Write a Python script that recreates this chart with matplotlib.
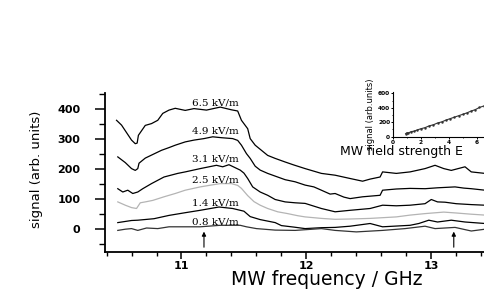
import matplotlib
matplotlib.use("Agg")
import matplotlib.pyplot as plt
from matplotlib.ticker import MultipleLocator

# ---- data ----
x65 = [10.48, 10.52, 10.56, 10.60, 10.63, 10.645, 10.655, 10.71, 10.76, 10.81, 10.85, 10.90, 10.95, 11.03, 11.10, 11.20, 11.31, 11.40, 11.45, 11.48, 11.53, 11.55, 11.59, 11.64, 11.69, 11.75, 11.83, 11.90, 11.99, 12.12, 12.23, 12.35, 12.45, 12.51, 12.59, 12.61, 12.72, 12.83, 12.95, 13.03, 13.10, 13.16, 13.27, 13.32, 13.43]
y65 = [361, 345, 320, 295, 283, 285, 311, 344, 350, 361, 384, 395, 401, 394, 400, 395, 405, 396, 392, 361, 333, 300, 278, 261, 244, 234, 222, 212, 200, 184, 178, 167, 158, 165, 172, 189, 184, 189, 200, 211, 200, 194, 206, 189, 184]

x49 = [10.49, 10.55, 10.60, 10.63, 10.65, 10.66, 10.71, 10.76, 10.84, 10.90, 10.95, 11.03, 11.10, 11.18, 11.25, 11.32, 11.41, 11.45, 11.48, 11.52, 11.55, 11.59, 11.63, 11.69, 11.75, 11.83, 11.91, 11.99, 12.06, 12.12, 12.19, 12.23, 12.30, 12.35, 12.45, 12.59, 12.61, 12.72, 12.83, 12.95, 13.05, 13.19, 13.26, 13.32, 13.43]
y49 = [239, 220, 200, 194, 200, 218, 235, 245, 261, 270, 278, 289, 295, 300, 306, 303, 300, 294, 278, 250, 234, 208, 195, 184, 175, 163, 156, 145, 139, 128, 115, 117, 105, 100, 106, 111, 128, 132, 134, 133, 136, 139, 135, 133, 128]

x31 = [10.49, 10.53, 10.57, 10.61, 10.65, 10.69, 10.76, 10.86, 10.97, 11.03, 11.15, 11.28, 11.33, 11.38, 11.42, 11.47, 11.50, 11.53, 11.57, 11.63, 11.69, 11.75, 11.83, 11.91, 11.99, 12.12, 12.23, 12.35, 12.51, 12.61, 12.72, 12.83, 12.95, 13.00, 13.05, 13.11, 13.20, 13.32, 13.43]
y31 = [133, 122, 128, 117, 122, 133, 150, 172, 184, 189, 200, 211, 206, 213, 205, 195, 185, 167, 139, 122, 111, 97, 89, 86, 84, 67, 56, 61, 67, 78, 76, 78, 83, 97, 89, 88, 83, 80, 78]

x25 = [10.49, 10.55, 10.60, 10.64, 10.67, 10.71, 10.77, 10.86, 10.95, 11.03, 11.15, 11.25, 11.31, 11.40, 11.45, 11.48, 11.53, 11.58, 11.63, 11.69, 11.77, 11.85, 11.93, 11.99, 12.12, 12.23, 12.35, 12.51, 12.72, 12.83, 12.95, 13.10, 13.20, 13.32, 13.43]
y25 = [89, 78, 70, 67, 86, 89, 94, 106, 117, 128, 139, 146, 150, 150, 144, 134, 110, 90, 78, 67, 56, 50, 43, 39, 34, 31, 32, 34, 39, 45, 50, 55, 52, 48, 45]

x14 = [10.49, 10.60, 10.65, 10.78, 10.90, 11.03, 11.15, 11.30, 11.41, 11.47, 11.50, 11.55, 11.63, 11.75, 11.80, 11.90, 11.99, 12.12, 12.23, 12.35, 12.51, 12.61, 12.83, 12.90, 12.98, 13.05, 13.16, 13.27, 13.43]
y14 = [20, 27, 28, 33, 44, 53, 61, 72, 67, 61, 58, 40, 30, 20, 10, 5, 0, 3, 4, 8, 17, 6, 11, 17, 28, 22, 28, 22, 17]

x08 = [10.49, 10.55, 10.60, 10.65, 10.72, 10.81, 10.90, 11.03, 11.15, 11.31, 11.47, 11.52, 11.60, 11.75, 11.91, 12.12, 12.23, 12.40, 12.61, 12.79, 12.95, 13.03, 13.19, 13.32, 13.43]
y08 = [-6, -2, 0, -6, 2, 0, 6, 6, 6, 11, 11, 6, 0, -5, -6, 0, -6, -11, -6, 0, 8, 0, 4, -8, -2]

labels = ["6.5 kV/m", "4.9 kV/m", "3.1 kV/m", "2.5 kV/m", "1.4 kV/m", "0.8 kV/m"]
label_y = [418, 326, 233, 163, 86, 22]
label_x = 11.27
arrow_x = [11.18, 13.18]

E_field = [0.9, 1.0, 1.1, 1.3, 1.5, 1.7, 2.0, 2.3, 2.6, 2.9, 3.2, 3.5, 3.8, 4.1, 4.4, 4.7, 5.0, 5.3, 5.6, 5.9, 6.2, 6.5]
E_signal = [40, 55, 50, 70, 75, 90, 110, 125, 150, 165, 190, 205, 230, 250, 270, 290, 310, 330, 355, 375, 405, 425]

# ---- figure ----
W, H = 485, 294
fig = plt.figure(figsize=(W / 100, H / 100), dpi=100)
ax = fig.add_axes([105.3 / W, (H - 251.7) / H, (W - 105.3) / W, (251.7 - 93) / H])

series = [(x65, y65, 'black'), (x49, y49, 'black'), (x31, y31, 'black'),
          (x25, y25, '#b4b4b4'), (x14, y14, 'black'), (x08, y08, '#333333')]
for xs, ys, c in series:
    ax.plot(xs, ys, color=c, lw=0.9)

for lab, ly in zip(labels, label_y):
    ax.text(label_x, ly, lab, ha='center', va='center', fontsize=7.5,
            family='DejaVu Serif', color='black')

for axx in arrow_x:
    ax.annotate('', xy=(axx, -10), xytext=(axx, -62),
                arrowprops=dict(arrowstyle='-|>', lw=0.8, color='black',
                                mutation_scale=6, shrinkA=0, shrinkB=0))

ax.set_xlim(10.39, 13.43)
ax.set_ylim(-77, 452)
ax.spines['top'].set_visible(False)
ax.spines['right'].set_visible(False)
for s in ['left', 'bottom']:
    ax.spines[s].set_linewidth(1.3)
ax.xaxis.set_major_locator(MultipleLocator(1))
ax.xaxis.set_minor_locator(MultipleLocator(0.2))
ax.yaxis.set_major_locator(MultipleLocator(100))
ax.yaxis.set_minor_locator(MultipleLocator(50))
ax.tick_params(axis='y', which='major', direction='out', length=7, width=1.1, labelsize=8, pad=11)
ax.tick_params(axis='y', which='minor', direction='out', length=4, width=1.0)
ax.tick_params(axis='x', which='major', direction='out', length=5, width=1.1, labelsize=8, pad=1.5)
ax.tick_params(axis='x', which='minor', direction='out', length=3, width=1.0)
for t in ax.get_xticklabels() + ax.get_yticklabels():
    t.set_fontweight('bold')
ax.set_xlabel('MW frequency / GHz', fontsize=13.5)
ax.xaxis.set_label_coords(0.584, -0.115)
ax.set_ylabel('signal (arb. units)', fontsize=9.5,
              family=['Liberation Sans Narrow', 'DejaVu Sans'])
ax.yaxis.set_label_coords(-0.164, 0.52)

# ---- inset ----
ins = fig.add_axes([393 / W, (H - 137) / H, (W - 393) / W, 45 / H])
ins.plot(E_field, E_signal, color='#333333', lw=0.8, marker='.', ms=1.5)
ins.set_xlim(0, 6.6)
ins.set_ylim(-5, 620)
ins.spines['top'].set_visible(False)
ins.spines['right'].set_visible(False)
for s in ['left', 'bottom']:
    ins.spines[s].set_linewidth(0.8)
ins.xaxis.set_major_locator(MultipleLocator(2))
ins.xaxis.set_minor_locator(MultipleLocator(1))
ins.yaxis.set_major_locator(MultipleLocator(200))
ins.yaxis.set_minor_locator(MultipleLocator(100))
ins.tick_params(which='major', direction='out', length=1.5, width=0.7, labelsize=4.2, pad=0.5)
ins.tick_params(which='minor', direction='out', length=1, width=0.6)
for t in ins.get_xticklabels() + ins.get_yticklabels():
    t.set_fontweight('bold')
ins.set_ylabel('signal (arb.units)', fontsize=6,
               family=['Liberation Sans Narrow', 'DejaVu Sans'], labelpad=2)
fig.text(340 / W, (H - 151) / H, 'MW field strength E', fontsize=9,
         ha='left', va='center')

fig.savefig('out.png', dpi=100)
